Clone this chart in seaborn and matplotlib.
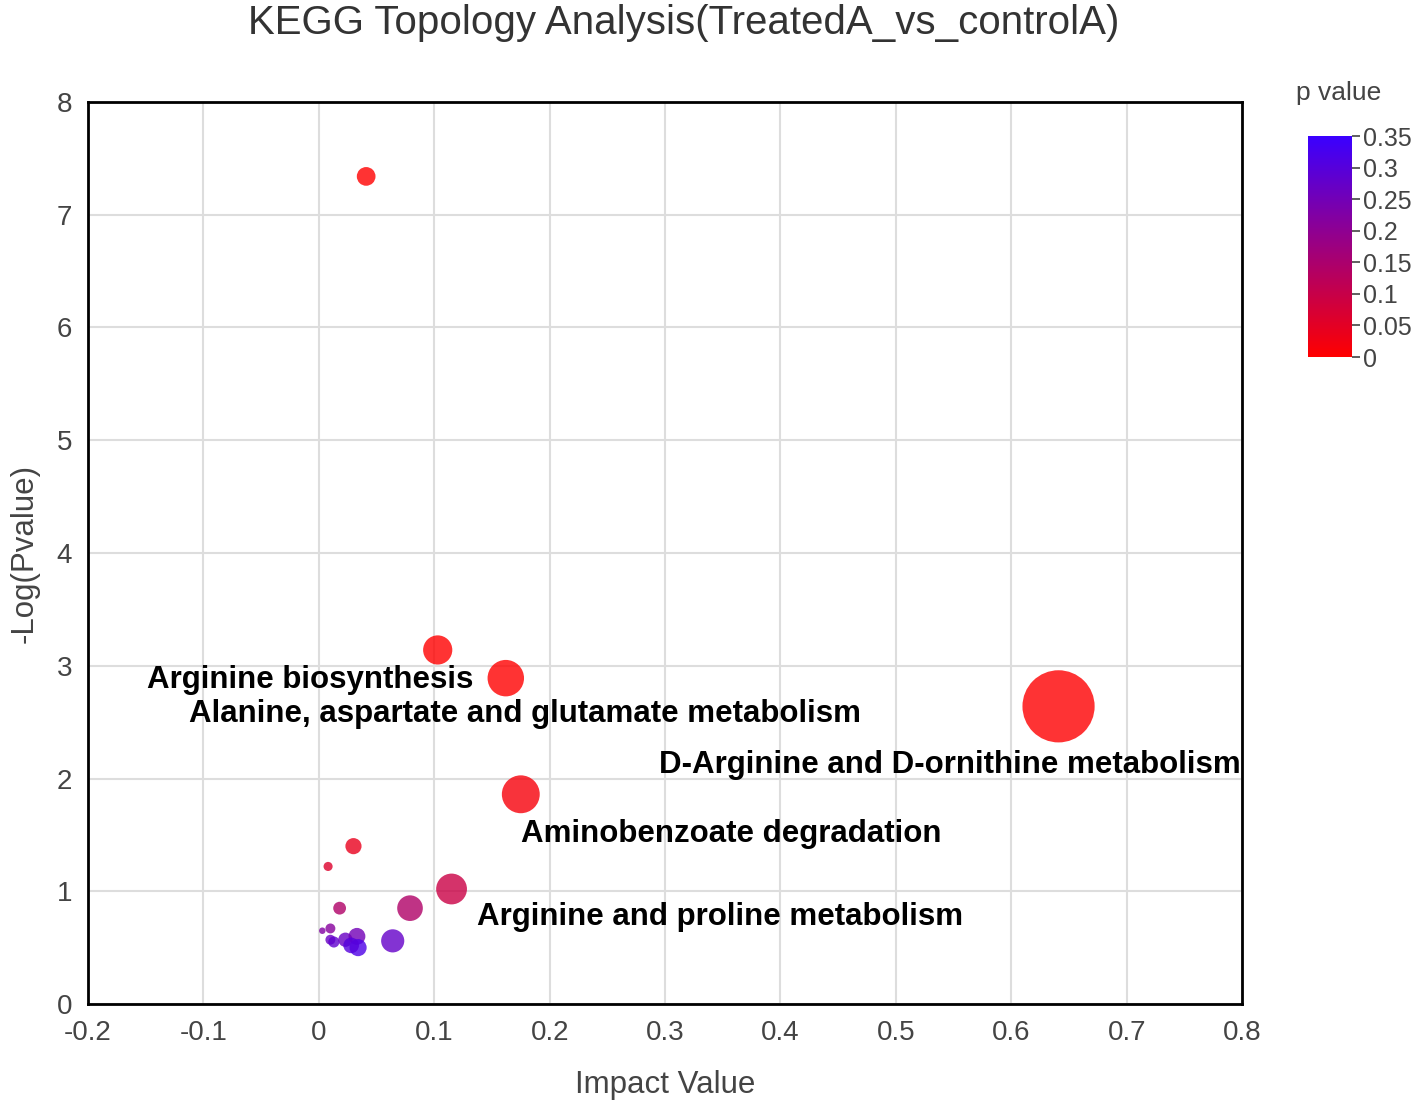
import numpy as np
import pandas as pd
import matplotlib
import matplotlib.pyplot as plt
import seaborn as sns
from matplotlib.colors import LinearSegmentedColormap, Normalize
from matplotlib.cm import ScalarMappable

# pathway data
impact = [0.041, 0.103, 0.162, 0.641, 0.175, 0.030, 0.008, 0.115, 0.079, 0.018,
          0.064, 0.003, 0.010, 0.010, 0.013, 0.023, 0.033, 0.034, 0.028]
neg_log_p = [7.34, 3.14, 2.89, 2.64, 1.86, 1.40, 1.22, 1.02, 0.85, 0.85,
             0.56, 0.65, 0.67, 0.57, 0.55, 0.57, 0.60, 0.50, 0.52]
labels = ['', 'Alanine, aspartate and glutamate metabolism', 'Arginine biosynthesis',
          'D-Arginine and D-ornithine metabolism', 'Aminobenzoate degradation',
          '', '', 'Arginine and proline metabolism', '', '',
          '', '', '', '', '', '', '', '', '']
x_ticks = [-0.2, -0.1, 0, 0.1, 0.2, 0.3, 0.4, 0.5, 0.6, 0.7, 0.8]
y_ticks = [0, 1, 2, 3, 4, 5, 6, 7, 8]
cbar_ticks = [0, 0.05, 0.1, 0.15, 0.2, 0.25, 0.3, 0.35]

df = pd.DataFrame({'impact': impact, 'nlp': neg_log_p, 'label': labels})
df['p'] = 10 ** (-df['nlp'])

# label placement (data coords, alignment)
label_pos = {
    'Arginine biosynthesis': (0.1336, 2.87, 'right'),
    'Alanine, aspartate and glutamate metabolism': (-0.1124, 2.57, 'left'),
    'D-Arginine and D-ornithine metabolism': (0.2948, 2.12, 'left'),
    'Aminobenzoate degradation': (0.1752, 1.51, 'left'),
    'Arginine and proline metabolism': (0.1371, 0.77, 'left'),
}

sns.set_style('white')
plt.rcParams['font.family'] = ['Liberation Sans', 'DejaVu Sans']

cmap = LinearSegmentedColormap.from_list('pv', ['#ff0000', '#3a00ff'])
norm = Normalize(0, 0.35)

fig = plt.figure(figsize=(14.18, 11.05), dpi=100)
ax = fig.add_axes([0.0621, 0.0914, 0.8138, 0.8163])

sns.scatterplot(data=df, x='impact', y='nlp', hue='p', palette=cmap, hue_norm=norm,
                size='impact', sizes=(22, 2700), size_norm=(0.003, 0.641),
                alpha=0.8, linewidth=0, legend=False, ax=ax, zorder=3)

for name, (tx, ty, ha) in label_pos.items():
    ax.text(tx, ty, name, ha=ha, va='center', fontsize=22.5, fontweight='bold',
            color='black', zorder=4)

ax.set_xlim(-0.2, 0.8)
ax.set_ylim(0, 8)
ax.set_xticks(x_ticks)
ax.set_xticklabels(['-0.2', '-0.1', '0', '0.1', '0.2', '0.3', '0.4', '0.5', '0.6', '0.7', '0.8'])
ax.set_yticks(y_ticks)
ax.grid(True, color='#dddddd', linewidth=1.5, zorder=0)
ax.set_axisbelow(True)
for s in ax.spines.values():
    s.set_color('black')
    s.set_linewidth(2)
ax.tick_params(axis='both', length=8, width=2, color='black', labelsize=20,
               labelcolor='#444444', direction='out')
ax.set_xlabel('Impact Value', fontsize=22.5, color='#444444', labelpad=17)
ax.set_ylabel('-Log(Pvalue)', fontsize=22.5, color='#444444', labelpad=12)
fig.text(0.482, 0.979, 'KEGG Topology Analysis(TreatedA_vs_controlA)', ha='center',
         va='center', fontsize=29, color='#333333')

cax = fig.add_axes([0.9224, 0.6769, 0.031, 0.2])
sm = ScalarMappable(norm=norm, cmap=cmap)
cb = fig.colorbar(sm, cax=cax, ticks=cbar_ticks)
cb.outline.set_visible(False)
cb.ax.set_yticklabels(['0', '0.05', '0.1', '0.15', '0.2', '0.25', '0.3', '0.35'])
cb.ax.tick_params(length=6, width=1.2, color='#444444', labelsize=18, labelcolor='#444444', pad=2)
fig.text(0.944, 0.916, 'p value', ha='center', va='center', fontsize=19, color='#444444')

fig.savefig('out.png', dpi=100)
